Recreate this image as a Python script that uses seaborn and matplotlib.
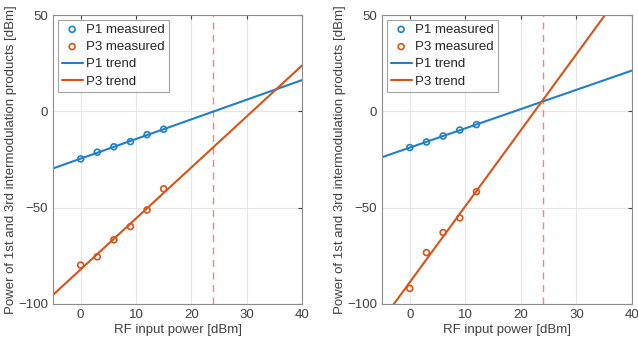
import numpy as np
import pandas as pd
import matplotlib
matplotlib.use("Agg")
import matplotlib.pyplot as plt
import seaborn as sns

sns.set_style("white")
plt.rcParams['font.family'] = ['Liberation Sans', 'DejaVu Sans']

# ---- data ----
left_x = [0, 3, 6, 9, 12, 15]
left_p1 = [-24.7, -21.2, -18.4, -15.7, -12.1, -9.3]
left_p3 = [-79.8, -75.5, -66.7, -59.8, -51.2, -40.2]

right_x = [0, 3, 6, 9, 12]
right_p1 = [-18.8, -15.9, -12.8, -9.7, -6.9]
right_p3 = [-91.9, -73.3, -62.9, -55.3, -41.7]

iip3_marker = 24
xticks = [0, 10, 20, 30, 40]
yticks = [-100, -50, 0, 50]

BLUE = "#1f80c8"
ORANGE = "#D95319"

fig = plt.figure(figsize=(6.38, 3.49), dpi=100)
ax1 = fig.add_axes([53/638, 1-304/349, 249/638, 289/349])
ax2 = fig.add_axes([382/638, 1-304/349, 250/638, 289/349])

FS = 9.5
for ax, xs, p1, p3 in [(ax1, left_x, left_p1, left_p3), (ax2, right_x, right_p1, right_p3)]:
    ax.set_xlim(-5, 40)
    ax.set_ylim(-100, 50)
    df = pd.DataFrame({"x": xs, "p1": p1, "p3": p3})
    ax.grid(True, color="#e6e6e6", linewidth=0.8)
    ax.set_axisbelow(True)
    ax.axvline(iip3_marker, color="#ff7f7f", linestyle=(0, (5, 4)), linewidth=1.0, zorder=1)
    sns.scatterplot(data=df, x="x", y="p1", ax=ax, marker="o", s=18,
                    facecolors="none", edgecolor=BLUE, linewidth=1.2, label="P1 measured", zorder=3)
    sns.scatterplot(data=df, x="x", y="p3", ax=ax, marker="o", s=18,
                    facecolors="none", edgecolor=ORANGE, linewidth=1.2, label="P3 measured", zorder=3)
    sns.regplot(data=df, x="x", y="p1", ax=ax, scatter=False, ci=None, truncate=False,
                color=BLUE, line_kws={"linewidth": 1.5}, label="P1 trend")
    sns.regplot(data=df, x="x", y="p3", ax=ax, scatter=False, ci=None, truncate=False,
                color=ORANGE, line_kws={"linewidth": 1.5}, label="P3 trend")
    ax.set_xlim(-5, 40)
    ax.set_ylim(-100, 50)
    ax.set_xticks(xticks)
    ax.set_yticks(yticks)
    ax.tick_params(direction="in", length=3, labelsize=FS, colors="#404040",
                   top=True, right=True)
    for sp in ax.spines.values():
        sp.set_color("#8c8c8c")
        sp.set_linewidth(0.8)
    ax.set_xlabel("RF input power [dBm]", fontsize=FS, color="#404040", labelpad=2)
    ax.set_ylabel("Power of 1st and 3rd intermodulation products [dBm]", fontsize=FS,
                  color="#404040", labelpad=1)
    leg = ax.legend(loc="upper left", fontsize=FS, frameon=True, fancybox=False,
                    edgecolor="#8c8c8c", borderpad=0.3, labelspacing=0.38,
                    handlelength=1.6, handletextpad=0.25, borderaxespad=0.35)
    leg.get_frame().set_linewidth(0.8)
    for t in leg.get_texts():
        t.set_color("#262626")

fig.savefig("out.png", dpi=100)
